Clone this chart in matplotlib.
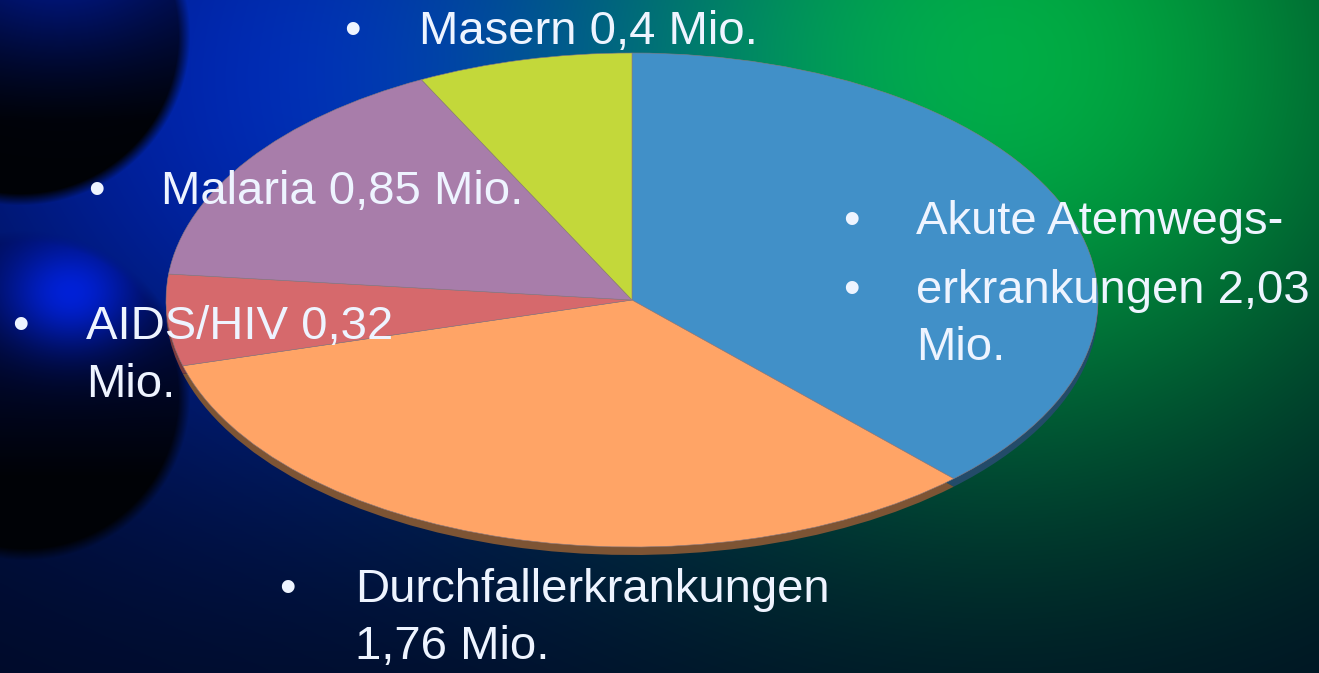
import numpy as np
import matplotlib
matplotlib.use('Agg')
import matplotlib.pyplot as plt

W, H = 1319, 673
DPI = 100

# Todesfälle in Mio.
categories = ['Akute Atemwegserkrankungen', 'Durchfallerkrankungen',
              'AIDS/HIV', 'Malaria', 'Masern']
values = [2.03, 1.76, 0.32, 0.85, 0.4]
top_colors = ['#4190C8', '#FFA466', '#D6696C', '#A87DAA', '#C3D83A']
side_colors = ['#234B69', '#7D5434', '#7A3C3D', '#5E4560', '#6E7A20']

# bullet lines: (bullet x, text x, baseline y, text), pixel positions
label_lines = [
    (352, 419, 44, 'Masern 0,4 Mio.'),
    (96, 161, 204, 'Malaria 0,85 Mio.'),
    (851, 916, 234, 'Akute Atemwegs-'),
    (851, 916, 303, 'erkrankungen 2,03'),
    (None, 916, 360, 'Mio.'),
    (20, 86, 339, 'AIDS/HIV 0,32'),
    (None, 86, 397, 'Mio.'),
    (287, 355, 602, 'Durchfallerkrankungen'),
    (None, 355, 659, '1,76 Mio.'),
]

PIE_CX, PIE_CY = 632, 300
PIE_RX, PIE_RY = 466, 247
DEPTH = 8


def make_background():
    """Blue/green slide background with two dark spheres on the left."""
    yy, xx = np.mgrid[0:H, 0:W].astype(float)
    img = np.zeros((H, W, 3))
    img[:] = np.array([0, 10, 34]) / 255.0

    blue = np.exp(-(((xx - 320) / 470) ** 2 + ((yy - 80) / 390) ** 2))
    green = np.exp(-(((xx - 1010) / 470) ** 2 + ((yy - 60) / 430) ** 2))
    img += blue[..., None] * np.array([0, 22, 150]) / 255.0
    img[..., 2] *= 1 - 0.4 * green
    img += green[..., None] * np.array([0, 160, 40]) / 255.0

    # (cx, cy, r, top colour, glow centre, glow size, glow colour)
    spheres = [(20, 35, 170, np.array([0, 18, 105]), (60, -40), 120, np.array([0, 12, 70])),
               (25, 395, 165, np.array([0, 14, 85]), (70, 295), 70, np.array([0, 22, 150]))]
    for cx, cy, r, top, (gx, gy), gs, glow in spheres:
        d = np.hypot(xx - cx, yy - cy)
        alpha = np.clip((r - d) / 12.0, 0, 1)
        t = np.clip((yy - (cy - r)) / (1.5 * r), 0, 1)[..., None]
        inner = top / 255.0 * (1 - t) + np.array([0, 2, 6]) / 255.0 * t
        g = np.exp(-(((xx - gx) / gs) ** 2 + ((yy - gy) / (0.8 * gs)) ** 2))
        inner = inner + g[..., None] * glow / 255.0
        img = img * (1 - alpha[..., None]) + inner * alpha[..., None]
    return np.clip(img, 0, 1)


fig = plt.figure(figsize=(W / DPI, H / DPI), dpi=DPI)

bg = fig.add_axes([0, 0, 1, 1])
bg.imshow(make_background(), extent=[0, W, H, 0], aspect='auto',
          interpolation='bilinear')
bg.axis('off')

ax = fig.add_axes([0, 0, 1, 1])
ax.patch.set_alpha(0)
# 3d side of the pie, then the top face
ax.pie(values, colors=side_colors, startangle=90, counterclock=False,
       center=(0, -DEPTH / PIE_RY), wedgeprops=dict(linewidth=0))
ax.pie(values, colors=top_colors, startangle=90, counterclock=False,
       wedgeprops=dict(linewidth=0.4, edgecolor='#8a7a80'))
ax.set_aspect('auto')
ax.set_xlim(-PIE_CX / PIE_RX, (W - PIE_CX) / PIE_RX)
ax.set_ylim((PIE_CY - H) / PIE_RY, PIE_CY / PIE_RY)
ax.axis('off')

txt = dict(color='#EEF4FF', fontsize=34, family=['Liberation Sans', 'DejaVu Sans'],
           va='baseline')
for bx, tx, by, s in label_lines:
    if bx is not None:
        fig.text(bx / W, 1 - by / H, '\u2022', ha='center', **txt)
    fig.text(tx / W, 1 - by / H, s, ha='left', **txt)

fig.savefig('out.png', dpi=DPI)
